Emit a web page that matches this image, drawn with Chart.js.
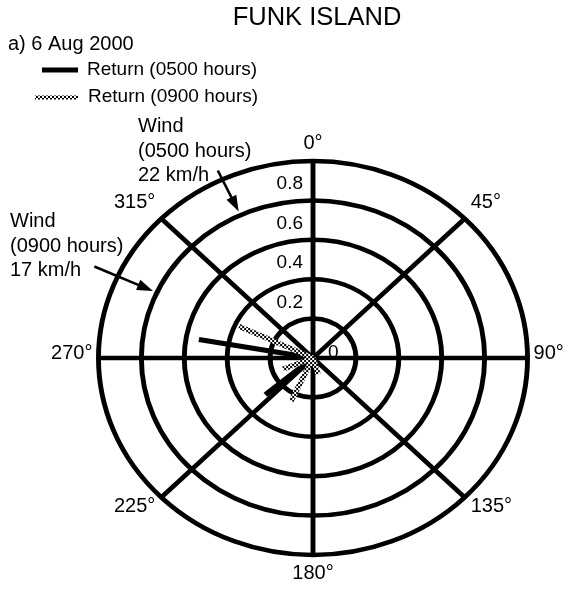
<!DOCTYPE html>
<html>
<head>
<meta charset="utf-8">
<script src="https://cdn.jsdelivr.net/npm/chart.js@4/dist/chart.umd.min.js"></script>
<style>
html,body{margin:0;padding:0;background:#fff;}
canvas{display:block;}
</style>
</head>
<body>
<canvas id="c" width="568" height="590"></canvas>
<script>
// ---------- data ----------
const titleText = 'FUNK ISLAND';
const subtitleText = 'a) 6 Aug 2000';
const seriesNames = ['Return (0500 hours)', 'Return (0900 hours)'];
const directions = Array.from({length: 360}, (_, i) => i);   // compass bearings, degrees
const angleLabelStep = 45;                                     // labelled spokes every 45°
const ringMin = 0, ringMax = 1, ringStep = 0.2;

// return vectors (bearing in degrees, magnitude)
const ret0500Dir = [280, 230];
const ret0500Mag = [0.54, 0.29];
const ret0900Dir = [295, 248, 205, 164];
const ret0900Mag = [0.38, 0.15, 0.24, 0.085];

// wind annotations
const windText = [['Wind', '(0500 hours)', '22 km/h'], ['Wind', '(0900 hours)', '17 km/h']];
const windDir = [335, 294.5];
const windTailR = [1.05, 1.12];
const windTipR = 0.82;

// ---------- drawing ----------
const SX = 1.089;   // horizontal stretch of the polar frame (reference is slightly elliptical)
const FONT = '"Liberation Sans", Arial, Helvetica, sans-serif';
const canvas = document.getElementById('c');
const ctx = canvas.getContext('2d');

function makeHatch() {
  const pc = document.createElement('canvas');
  pc.width = 4; pc.height = 4;
  const g = pc.getContext('2d');
  g.fillStyle = '#fff'; g.fillRect(0, 0, 4, 4);
  g.fillStyle = '#000'; g.fillRect(0, 0, 2, 2); g.fillRect(2, 2, 2, 2);
  return ctx.createPattern(pc, 'repeat');
}
const hatch = makeHatch();
const hatchStretched = makeHatch();
try { hatchStretched.setTransform(new DOMMatrix().scale(1 / SX, 1)); } catch (e) {}

function vectorData(dir, mag) {
  const d = new Array(directions.length).fill(null);
  d[dir] = mag;
  d[(dir + 1) % directions.length] = 0;
  return d;
}

const datasets = [];
ret0900Dir.forEach((d, i) => datasets.push({
  label: seriesNames[1], data: vectorData(d, ret0900Mag[i]),
  borderColor: hatchStretched, borderWidth: 5, pointRadius: 0, fill: false, borderCapStyle: 'butt'
}));
ret0500Dir.forEach((d, i) => datasets.push({
  label: seriesNames[0], data: vectorData(d, ret0500Mag[i]),
  borderColor: '#000', borderWidth: 5, pointRadius: 0, fill: false, borderCapStyle: 'butt'
}));

function pos(scale, deg, val) {
  const n = scale.getLabels().length;
  const p = scale.getPointPosition(deg * n / 360, scale.getDistanceFromCenterForValue(val));
  return {x: scale.xCenter + SX * (p.x - scale.xCenter), y: p.y};
}

function arrow(c, from, to) {
  const ang = Math.atan2(to.y - from.y, to.x - from.x);
  const L = 16, W = 5.5;
  const bx = to.x - L * Math.cos(ang), by = to.y - L * Math.sin(ang);
  c.beginPath();
  c.moveTo(from.x, from.y);
  c.lineTo(bx + 2 * Math.cos(ang), by + 2 * Math.sin(ang));
  c.lineWidth = 2.6; c.strokeStyle = '#000'; c.stroke();
  c.beginPath();
  c.moveTo(to.x, to.y);
  c.lineTo(bx - W * Math.sin(ang), by + W * Math.cos(ang));
  c.lineTo(bx + W * Math.sin(ang), by - W * Math.cos(ang));
  c.closePath(); c.fillStyle = '#000'; c.fill();
}

const framePlugin = {
  id: 'frame',
  beforeDraw(chart) {
    const s = chart.scales.r, c = chart.ctx;
    c.save();
    c.translate(s.xCenter, 0); c.scale(SX, 1); c.translate(-s.xCenter, 0);
  },
  afterDatasetsDraw(chart) { chart.ctx.restore(); },
  afterDraw(chart) {
    const s = chart.scales.r, c = chart.ctx;
    c.save();
    c.fillStyle = '#000';
    c.textBaseline = 'alphabetic';

    // title & subtitle
    c.font = `25.5px ${FONT}`; c.textAlign = 'center';
    c.fillText(titleText, 317, 25);
    c.font = `20px ${FONT}`; c.textAlign = 'left';
    c.fillText(subtitleText, 8, 50);

    // legend
    const sets = chart.data.datasets;
    const legendItems = [sets.find(d => d.label === seriesNames[0]), sets.find(d => d.label === seriesNames[1])];
    const rows = [{x0: 42, x1: 78, y: 70, tx: 87, ty: 75, w: 5}, {x0: 35, x1: 78, y: 97.5, tx: 88, ty: 102, w: 4}];
    legendItems.forEach((ds, i) => {
      const r = rows[i];
      c.beginPath(); c.moveTo(r.x0, r.y); c.lineTo(r.x1, r.y);
      c.lineWidth = r.w; c.strokeStyle = (ds.borderColor === hatchStretched) ? hatch : ds.borderColor;
      c.lineCap = 'butt'; c.stroke();
      c.font = `19px ${FONT}`; c.textAlign = 'left'; c.fillStyle = '#000';
      c.fillText(ds.label, r.tx, r.ty);
    });

    // radial tick labels
    c.font = `19px ${FONT}`;
    s.ticks.forEach(t => {
      if (t.value <= s.min || t.value >= s.max) return;
      const r = s.getDistanceFromCenterForValue(t.value);
      c.textAlign = 'right';
      c.fillText(t.label, s.xCenter - 10, s.yCenter - r - 11);
    });
    c.textAlign = 'left';
    c.fillText(String(s.min), s.xCenter + 15, s.yCenter - 0.5);

    // angle labels
    c.font = `20px ${FONT}`; c.textBaseline = 'middle';
    s.getLabels().forEach((lab, i) => {
      if (lab % angleLabelStep !== 0) return;
      const a = lab * Math.PI / 180;
      const p = pos(s, lab, s.max);
      const sn = Math.sin(a), cs = Math.cos(a);
      const y = p.y - cs * 18 - Math.abs(sn) * 5;
      let x = p.x;
      if (sn > 0.1) { c.textAlign = 'left'; x += 6; }
      else if (sn < -0.1) { c.textAlign = 'right'; x -= 6; }
      else { c.textAlign = 'center'; }
      c.fillText(lab + '°', x, y);
    });

    // wind arrows
    windDir.forEach((d, i) => arrow(c, pos(s, d, windTailR[i]), pos(s, d, windTipR)));

    // wind texts
    c.font = `20px ${FONT}`; c.textBaseline = 'alphabetic'; c.textAlign = 'left';
    const blocks = [{x: 138, y: 132}, {x: 10, y: 227}];
    windText.forEach((lines, i) => {
      lines.forEach((ln, j) => c.fillText(ln, blocks[i].x, blocks[i].y + j * 24.5));
    });
    c.restore();
  }
};

new Chart(ctx, {
  type: 'radar',
  data: {labels: directions, datasets},
  options: {
    responsive: false,
    animation: false,
    events: [],
    layout: {padding: {left: 116, right: 58, top: 161, bottom: 35}},
    elements: {line: {tension: 0}},
    spanGaps: false,
    plugins: {legend: {display: false}, tooltip: {enabled: false}, title: {display: false}},
    scales: {
      r: {
        min: ringMin, max: ringMax,
        startAngle: 0,
        ticks: {display: false, stepSize: ringStep},
        pointLabels: {display: false},
        grid: {circular: true, color: '#000', lineWidth: 4.5},
        angleLines: {
          display: true,
          color: c => (c.index % angleLabelStep === 0 ? '#000' : 'rgba(0,0,0,0)'),
          lineWidth: c => (c.index % angleLabelStep === 0 ? 4.5 : 0)
        }
      }
    }
  },
  plugins: [framePlugin]
});
</script>
</body>
</html>
